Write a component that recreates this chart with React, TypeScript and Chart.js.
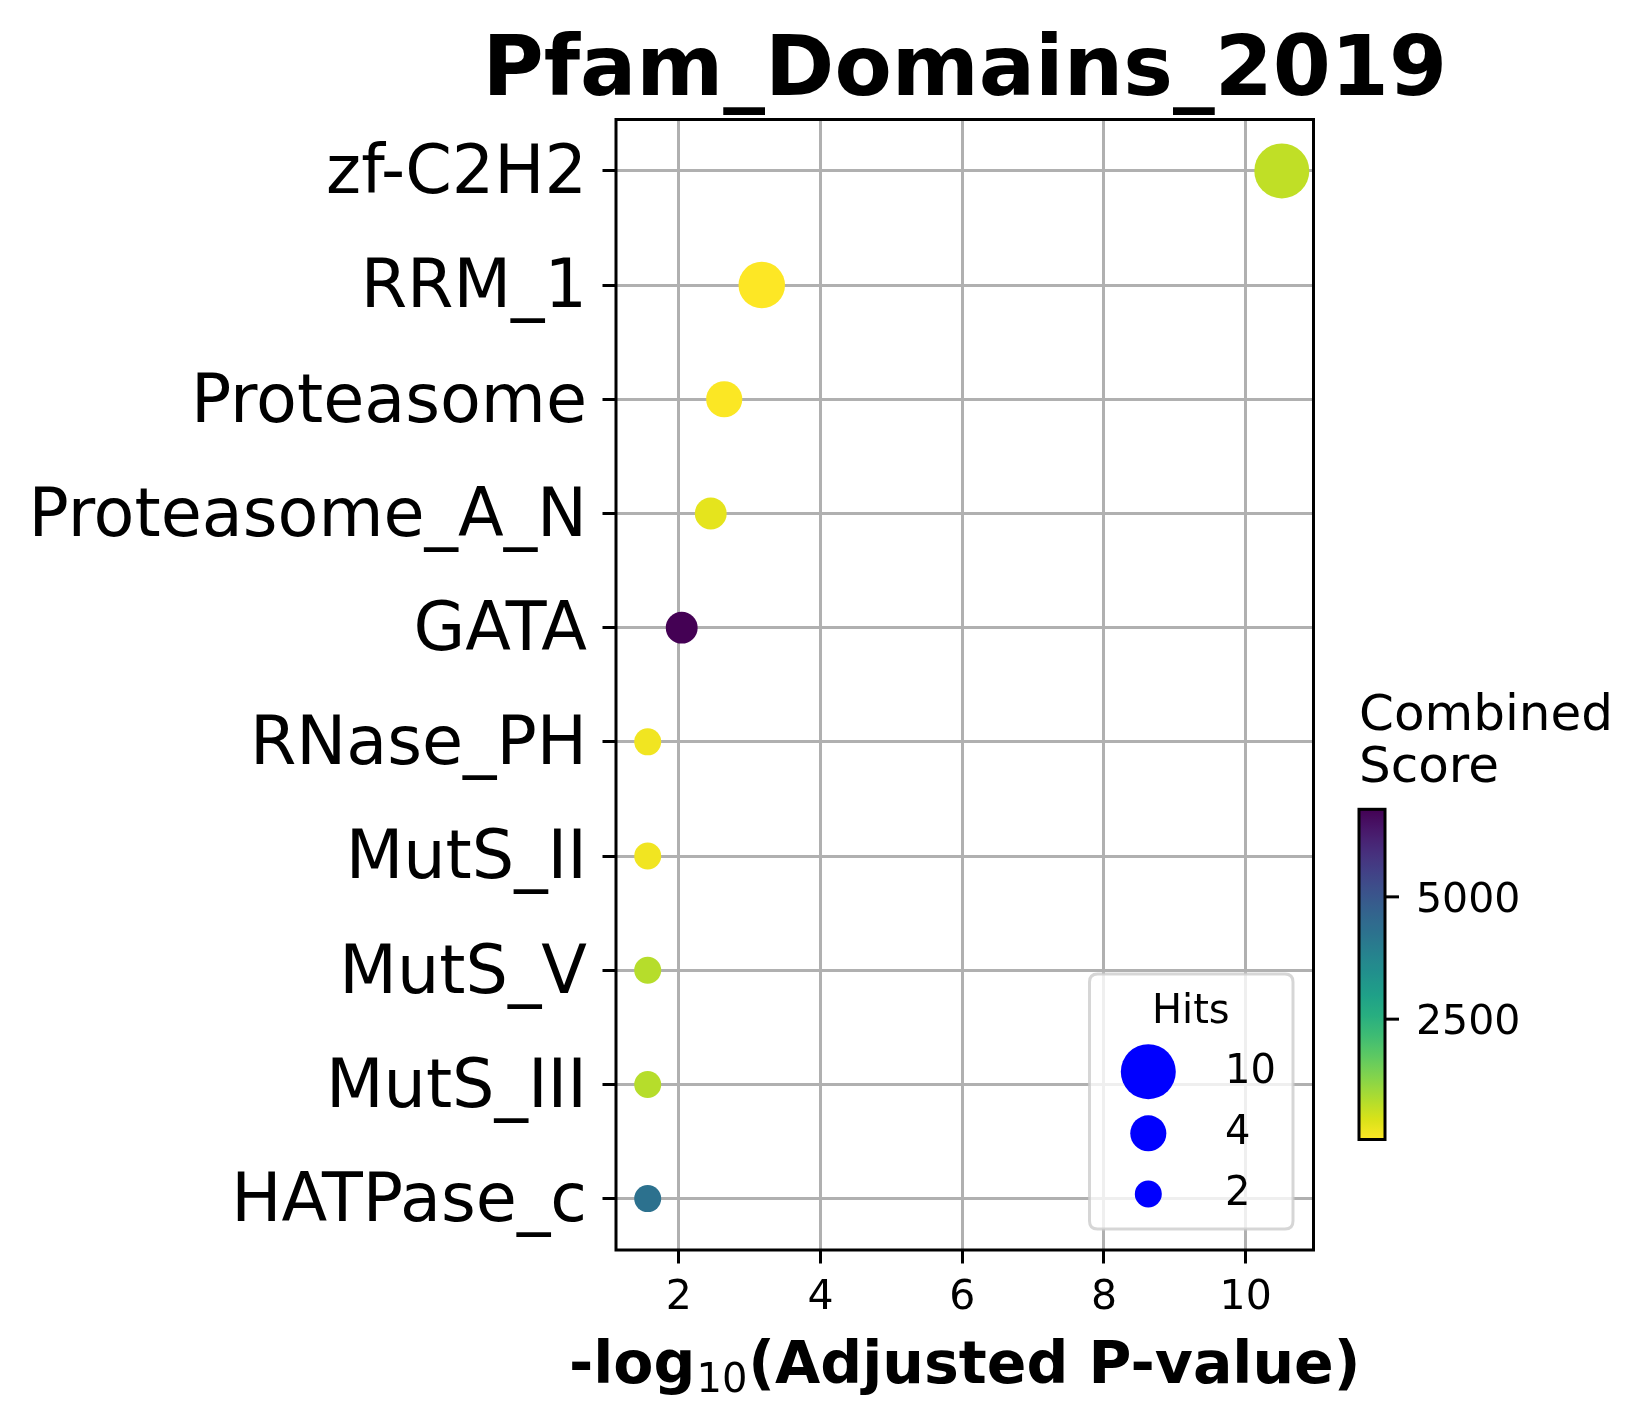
import React, { useEffect, useRef } from 'react';
import { Chart, registerables } from 'chart.js';

Chart.register(...registerables);

// ---------------- data ----------------
const TITLE = 'Pfam_Domains_2019';
const categories = [
  'zf-C2H2',
  'RRM_1',
  'Proteasome',
  'Proteasome_A_N',
  'GATA',
  'RNase_PH',
  'MutS_II',
  'MutS_V',
  'MutS_III',
  'HATPase_c',
];
const negLogPAdj = [10.51, 3.17, 2.64, 2.45, 2.04, 1.56, 1.56, 1.56, 1.56, 1.56];
const hits = [10, 7, 4, 3, 3, 2, 2, 2, 2, 2];
const combinedScores = [700, 40, 60, 310, 6790, 175, 175, 800, 800, 4280];
const xTicks = [2, 4, 6, 8, 10];
const colorbarTicks = [2500, 5000];
const legendHits = [10, 4, 2];

// ---------------- helpers ----------------
const VIRIDIS = [
  '#440154', '#48186a', '#472d7b', '#424086', '#3b528b', '#33638d', '#2c728e', '#26828e',
  '#21918c', '#1fa088', '#28ae80', '#3fbc73', '#5ec962', '#84d44b', '#addc30', '#d8e219', '#fde725',
];
function hexRgb(h: string) {
  return [parseInt(h.slice(1, 3), 16), parseInt(h.slice(3, 5), 16), parseInt(h.slice(5, 7), 16)];
}
function viridis(t: number) {
  t = Math.max(0, Math.min(1, t));
  const n = VIRIDIS.length - 1;
  const f = t * n;
  const i = Math.min(Math.floor(f), n - 1);
  const r = f - i;
  const a = hexRgb(VIRIDIS[i]);
  const b = hexRgb(VIRIDIS[i + 1]);
  const c = a.map((v, k) => Math.round(v + (b[k] - v) * r));
  return `rgb(${c[0]},${c[1]},${c[2]})`;
}
const vmin = Math.min(...combinedScores);
const vmax = Math.max(...combinedScores);
// viridis_r colormap
function scoreColor(s: number) {
  return viridis(1 - (s - vmin) / (vmax - vmin));
}
function markerRadius(h: number) {
  return Math.sqrt(155 + 287 * h) / 2;
}

const xMinData = Math.min(...negLogPAdj);
const xMaxData = Math.max(...negLogPAdj);
const xPad = (xMaxData - xMinData) * 0.05;
const yPad = (categories.length - 1) * 0.05;

const FONT = '"DejaVu Sans", "Liberation Sans", sans-serif';

const decorPlugin = {
  id: 'decor',
  afterDraw(chart: any) {
    const ctx = chart.ctx as CanvasRenderingContext2D;
    const a = chart.chartArea;
    ctx.save();

    // frame
    ctx.strokeStyle = '#000';
    ctx.lineWidth = 3;
    ctx.strokeRect(a.left, a.top, a.right - a.left, a.bottom - a.top);

    // title
    ctx.fillStyle = '#000';
    ctx.textBaseline = 'alphabetic';
    ctx.textAlign = 'left';
    ctx.font = `bold 83.5px ${FONT}`;
    const tw = ctx.measureText(TITLE).width;
    const cx = (a.left + a.right) / 2;
    ctx.fillText(TITLE, cx - tw / 2, 95);

    // x axis label with subscript
    const boldFont = `bold 58.5px ${FONT}`;
    const subFont = `40px ${FONT}`;
    const p1 = '-log';
    const p2 = '10';
    const p3 = '(Adjusted P-value)';
    ctx.font = boldFont;
    const w1 = ctx.measureText(p1).width;
    const w3 = ctx.measureText(p3).width;
    ctx.font = subFont;
    const w2 = ctx.measureText(p2).width;
    const total = w1 + w2 + w3 + 2;
    let x0 = cx - total / 2;
    const base = 1383;
    ctx.font = boldFont;
    ctx.fillText(p1, x0, base);
    x0 += w1 + 1;
    ctx.font = subFont;
    ctx.fillText(p2, x0, base + 9);
    x0 += w2 + 1;
    ctx.font = boldFont;
    ctx.fillText(p3, x0, base);

    // legend (Hits)
    const lx = 1089.5, ly = 974, lw = 203.5, lh = 255, rr = 8;
    ctx.beginPath();
    ctx.moveTo(lx + rr, ly);
    ctx.lineTo(lx + lw - rr, ly);
    ctx.quadraticCurveTo(lx + lw, ly, lx + lw, ly + rr);
    ctx.lineTo(lx + lw, ly + lh - rr);
    ctx.quadraticCurveTo(lx + lw, ly + lh, lx + lw - rr, ly + lh);
    ctx.lineTo(lx + rr, ly + lh);
    ctx.quadraticCurveTo(lx, ly + lh, lx, ly + lh - rr);
    ctx.lineTo(lx, ly + rr);
    ctx.quadraticCurveTo(lx, ly, lx + rr, ly);
    ctx.closePath();
    ctx.fillStyle = 'rgba(255,255,255,0.8)';
    ctx.fill();
    ctx.strokeStyle = 'rgba(204,204,204,0.8)';
    ctx.lineWidth = 3;
    ctx.stroke();

    ctx.fillStyle = '#000';
    ctx.font = `40px ${FONT}`;
    const ht = ctx.measureText('Hits').width;
    ctx.fillText('Hits', 1190.8 - ht / 2, 1023);
    const rowY = [1071.7, 1133.3, 1194];
    legendHits.forEach((h, i) => {
      ctx.beginPath();
      ctx.fillStyle = '#0000ff';
      ctx.arc(1148.3, rowY[i], markerRadius(h), 0, Math.PI * 2);
      ctx.fill();
      ctx.fillStyle = '#000';
      ctx.font = `40px ${FONT}`;
      ctx.fillText(String(h), 1225, rowY[i] + 11);
    });

    // colorbar
    const cbL = 1359, cbR = 1385, cbT = 809.3, cbB = 1139.5;
    const grad = ctx.createLinearGradient(0, cbB, 0, cbT);
    for (let k = 0; k <= 64; k++) {
      const t = k / 64;
      grad.addColorStop(t, viridis(1 - t));
    }
    ctx.fillStyle = grad;
    ctx.fillRect(cbL, cbT, cbR - cbL, cbB - cbT);
    ctx.strokeStyle = '#000';
    ctx.lineWidth = 3;
    ctx.strokeRect(cbL, cbT, cbR - cbL, cbB - cbT);
    ctx.font = `41px ${FONT}`;
    ctx.fillStyle = '#000';
    colorbarTicks.forEach((v) => {
      const y = cbB - ((v - vmin) / (vmax - vmin)) * (cbB - cbT);
      ctx.beginPath();
      ctx.moveTo(cbR, y);
      ctx.lineTo(cbR + 14, y);
      ctx.stroke();
      ctx.fillText(String(v), 1416, y + 14.9);
    });
    ctx.font = `50px ${FONT}`;
    ctx.fillText('Combined', 1359, 730);
    ctx.fillText('Score', 1359, 781.7);

    ctx.restore();
  },
};

export default function App() {
  const ref = useRef<HTMLCanvasElement | null>(null);

  useEffect(() => {
    if (!ref.current) return;
    const chart = new Chart(ref.current, {
      type: 'scatter',
      data: {
        datasets: [
          {
            data: categories.map((_, i) => ({ x: negLogPAdj[i], y: i })),
            pointRadius: hits.map(markerRadius),
            pointHoverRadius: hits.map(markerRadius),
            pointBackgroundColor: combinedScores.map(scoreColor),
            pointBorderWidth: 0,
            clip: false as any,
          },
        ],
      },
      options: {
        animation: false,
        responsive: false,
        devicePixelRatio: 1,
        events: [],
        layout: { padding: { left: 0, right: 328.5, top: 119.5, bottom: 0 } },
        plugins: {
          legend: { display: false },
          tooltip: { enabled: false },
          title: { display: false },
        },
        scales: {
          x: {
            type: 'linear',
            z: 1,
            min: xMinData - xPad,
            max: xMaxData + xPad,
            afterBuildTicks: (s: any) => {
              s.ticks = xTicks.map((v) => ({ value: v }));
            },
            afterFit: (s: any) => {
              s.height = 178;
            },
            grid: {
              color: '#b0b0b0',
              lineWidth: 3,
              tickColor: '#000',
              tickWidth: 3,
              tickLength: 13.5,
            },
            border: { display: false },
            ticks: {
              color: '#000',
              font: { family: FONT, size: 41 },
              padding: 10,
              maxRotation: 0,
              autoSkip: false,
              callback: (v: any) => String(v),
            },
          },
          y: {
            type: 'linear',
            z: 1,
            reverse: true,
            min: -yPad,
            max: categories.length - 1 + yPad,
            afterBuildTicks: (s: any) => {
              s.ticks = categories.map((_, i) => ({ value: i }));
            },
            afterFit: (s: any) => {
              s.width = 616;
            },
            grid: {
              color: '#b0b0b0',
              lineWidth: 3,
              tickColor: '#000',
              tickWidth: 3,
              tickLength: 13.5,
            },
            border: { display: false },
            ticks: {
              color: '#000',
              font: { family: FONT, size: 66.8 },
              padding: 15.5,
              labelOffset: 5,
              autoSkip: false,
              callback: (v: any) => categories[v] ?? '',
            },
          },
        },
      },
      plugins: [decorPlugin],
    });
    return () => chart.destroy();
  }, []);

  return (
    <div style={{ position: 'absolute', left: 0, top: 0, width: 1642, height: 1428, background: '#fff' }}>
      <canvas ref={ref} width={1642} height={1428} style={{ display: 'block' }} />
    </div>
  );
}
